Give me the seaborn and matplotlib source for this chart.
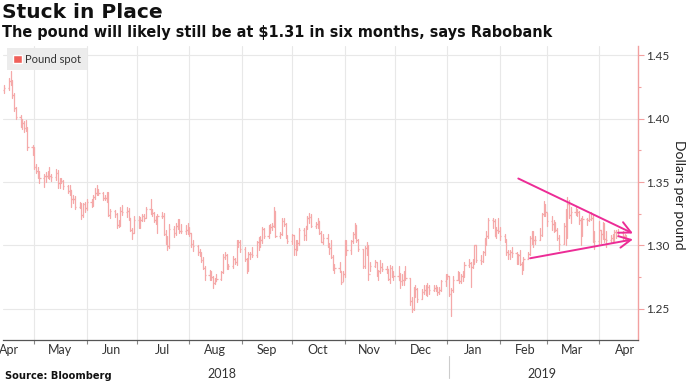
import pandas as pd
import matplotlib
matplotlib.use("Agg")
import matplotlib.pyplot as plt
import matplotlib.dates as mdates
from matplotlib.patches import Patch
from matplotlib.ticker import MultipleLocator
import seaborn as sns

# Daily GBP/USD bars, one block per month
# (close / high / low); open is the previous close
first_open = 1.4225

close_apr18 = [1.4240, 1.4300, 1.4295, 1.4190, 1.4085, 1.4015, 1.3965, 1.3970, 1.3930, 1.3925, 1.3775, 1.3765]
high_apr18 = [1.4265, 1.4320, 1.4377, 1.4305, 1.4200, 1.4090, 1.4030, 1.4000, 1.3985, 1.3990, 1.3935, 1.3795]
low_apr18 = [1.4205, 1.4230, 1.4270, 1.4165, 1.4060, 1.3995, 1.3935, 1.3920, 1.3895, 1.3900, 1.3755, 1.3715]

close_may18 = [1.3615, 1.3585, 1.3580, 1.3535, 1.3545, 1.3550, 1.3560, 1.3545, 1.3540, 1.3570, 1.3490, 1.3515,
               1.3510, 1.3470, 1.3430, 1.3440, 1.3365, 1.3370, 1.3305, 1.3320, 1.3240, 1.3325, 1.3295]
high_may18 = [1.3775, 1.3640, 1.3620, 1.3590, 1.3565, 1.3580, 1.3585, 1.3615, 1.3560, 1.3605, 1.3595, 1.3530,
              1.3535, 1.3520, 1.3475, 1.3475, 1.3440, 1.3395, 1.3390, 1.3340, 1.3335, 1.3335, 1.3340]
low_may18 = [1.3605, 1.3575, 1.3535, 1.3490, 1.3460, 1.3500, 1.3530, 1.3525, 1.3510, 1.3515, 1.3455, 1.3450,
             1.3490, 1.3445, 1.3415, 1.3400, 1.3305, 1.3335, 1.3290, 1.3295, 1.3205, 1.3225, 1.3265]

close_jun18 = [1.3340, 1.3340, 1.3380, 1.3415, 1.3440, 1.3410, 1.3375, 1.3375, 1.3395, 1.3240, 1.3270,
               1.3245, 1.3160, 1.3180, 1.3275, 1.3260, 1.3270, 1.3215, 1.3125, 1.3100, 1.3200]
high_jun18 = [1.3365, 1.3365, 1.3400, 1.3450, 1.3475, 1.3445, 1.3425, 1.3400, 1.3420, 1.3425, 1.3290,
              1.3280, 1.3255, 1.3200, 1.3300, 1.3315, 1.3305, 1.3295, 1.3220, 1.3140, 1.3230]
low_jun18 = [1.3280, 1.3300, 1.3310, 1.3365, 1.3400, 1.3395, 1.3360, 1.3355, 1.3345, 1.3230, 1.3220,
             1.3225, 1.3135, 1.3145, 1.3155, 1.3240, 1.3225, 1.3200, 1.3110, 1.3050, 1.3100]

close_jul18 = [1.3150, 1.3200, 1.3230, 1.3220, 1.3285, 1.3270, 1.3255, 1.3200, 1.3195, 1.3230, 1.3235,
               1.3090, 1.3050, 1.2995, 1.3130, 1.3100, 1.3150, 1.3175, 1.3115, 1.3110, 1.3125, 1.3120]
high_jul18 = [1.3230, 1.3225, 1.3250, 1.3250, 1.3300, 1.3365, 1.3285, 1.3265, 1.3230, 1.3250, 1.3260,
              1.3255, 1.3120, 1.3075, 1.3165, 1.3150, 1.3175, 1.3205, 1.3205, 1.3165, 1.3160, 1.3180]
low_jul18 = [1.3135, 1.3140, 1.3190, 1.3195, 1.3215, 1.3250, 1.3230, 1.3185, 1.3170, 1.3100, 1.3215,
             1.3085, 1.3010, 1.2960, 1.2980, 1.3065, 1.3080, 1.3130, 1.3095, 1.3100, 1.3090, 1.3090]

close_aug18 = [1.3095, 1.3010, 1.2995, 1.2950, 1.2930, 1.2885, 1.2825, 1.2765, 1.2785, 1.2750, 1.2705, 1.2715,
               1.2735, 1.2790, 1.2905, 1.2925, 1.2835, 1.2840, 1.2895, 1.2870, 1.3035, 1.3030, 1.2970]
high_aug18 = [1.3145, 1.3100, 1.3040, 1.3000, 1.2975, 1.2950, 1.2905, 1.2835, 1.2805, 1.2795, 1.2760, 1.2745,
              1.2770, 1.2800, 1.2930, 1.2950, 1.2935, 1.2855, 1.2915, 1.2900, 1.3045, 1.3045, 1.3045]
low_aug18 = [1.3075, 1.2990, 1.2955, 1.2925, 1.2915, 1.2870, 1.2815, 1.2730, 1.2730, 1.2725, 1.2660, 1.2695,
             1.2715, 1.2725, 1.2785, 1.2890, 1.2810, 1.2810, 1.2820, 1.2855, 1.2845, 1.2990, 1.2950]

close_sep18 = [1.2895, 1.2860, 1.2935, 1.2935, 1.2925, 1.3030, 1.3040, 1.3045, 1.3130, 1.3075,
               1.3150, 1.3145, 1.3150, 1.3270, 1.3070, 1.3090, 1.3195, 1.3170, 1.3075, 1.3035]
high_sep18 = [1.2985, 1.2900, 1.2945, 1.2945, 1.2985, 1.3035, 1.3065, 1.3070, 1.3145, 1.3140,
              1.3160, 1.3165, 1.3175, 1.3300, 1.3275, 1.3105, 1.3215, 1.3220, 1.3175, 1.3085]
low_sep18 = [1.2880, 1.2785, 1.2800, 1.2895, 1.2910, 1.2905, 1.2960, 1.2985, 1.3020, 1.3055,
             1.3055, 1.3100, 1.3120, 1.3145, 1.3065, 1.3060, 1.3085, 1.3150, 1.3060, 1.3015]

close_oct18 = [1.3080, 1.2975, 1.2965, 1.3020, 1.3120, 1.3080, 1.3150, 1.3215, 1.3225, 1.3150, 1.3170, 1.3190,
               1.3100, 1.3030, 1.3060, 1.3000, 1.2980, 1.2910, 1.2810, 1.2825, 1.2795, 1.2710, 1.2770]
high_oct18 = [1.3090, 1.3085, 1.3045, 1.3040, 1.3140, 1.3135, 1.3155, 1.3235, 1.3255, 1.3245, 1.3185, 1.3215,
              1.3195, 1.3110, 1.3090, 1.3090, 1.3020, 1.3045, 1.2925, 1.2855, 1.2865, 1.2800, 1.2795]
low_oct18 = [1.3010, 1.2925, 1.2920, 1.2960, 1.3000, 1.3045, 1.3045, 1.3130, 1.3175, 1.3145, 1.3135, 1.3140,
             1.3090, 1.3025, 1.3010, 1.2990, 1.2935, 1.2900, 1.2805, 1.2780, 1.2790, 1.2695, 1.2715]

close_nov18 = [1.3010, 1.2965, 1.3035, 1.3090, 1.3160, 1.3045, 1.2970, 1.2840, 1.2980, 1.2975, 1.2770,
               1.2840, 1.2865, 1.2770, 1.2795, 1.2830, 1.2815, 1.2810, 1.2735, 1.2825, 1.2780, 1.2755]
high_nov18 = [1.3040, 1.3045, 1.3045, 1.3105, 1.3175, 1.3160, 1.3050, 1.2975, 1.2995, 1.3030, 1.3000,
              1.2870, 1.2885, 1.2870, 1.2805, 1.2885, 1.2860, 1.2840, 1.2810, 1.2845, 1.2840, 1.2800]
low_nov18 = [1.2750, 1.2925, 1.2935, 1.3015, 1.3055, 1.3030, 1.2955, 1.2825, 1.2825, 1.2925, 1.2725,
             1.2795, 1.2830, 1.2760, 1.2725, 1.2785, 1.2795, 1.2780, 1.2725, 1.2700, 1.2750, 1.2725]

close_dec18 = [1.2730, 1.2720, 1.2725, 1.2780, 1.2740, 1.2560, 1.2495, 1.2635, 1.2655, 1.2580, 1.2630,
               1.2645, 1.2630, 1.2670, 1.2650, 1.2665, 1.2670, 1.2635, 1.2650, 1.2720, 1.2755]
high_dec18 = [1.2840, 1.2785, 1.2770, 1.2800, 1.2840, 1.2745, 1.2595, 1.2670, 1.2690, 1.2665, 1.2655,
              1.2690, 1.2690, 1.2700, 1.2690, 1.2690, 1.2690, 1.2675, 1.2675, 1.2730, 1.2775]
low_dec18 = [1.2725, 1.2660, 1.2690, 1.2690, 1.2730, 1.2525, 1.2475, 1.2490, 1.2590, 1.2555, 1.2575,
             1.2615, 1.2610, 1.2600, 1.2615, 1.2640, 1.2640, 1.2610, 1.2615, 1.2640, 1.2680]

close_jan19 = [1.2755, 1.2615, 1.2645, 1.2730, 1.2785, 1.2720, 1.2755, 1.2755, 1.2845, 1.2860, 1.2830, 1.2875,
               1.3000, 1.2885, 1.2875, 1.2945, 1.3045, 1.3075, 1.3200, 1.3190, 1.3075, 1.3125, 1.3115]
high_jan19 = [1.2770, 1.2760, 1.2660, 1.2760, 1.2800, 1.2790, 1.2775, 1.2800, 1.2870, 1.2890, 1.2870, 1.2895,
              1.3000, 1.3005, 1.2925, 1.2955, 1.3055, 1.3110, 1.3215, 1.3215, 1.3205, 1.3145, 1.3215]
low_jan19 = [1.2735, 1.2600, 1.2440, 1.2635, 1.2730, 1.2705, 1.2705, 1.2720, 1.2750, 1.2830, 1.2670, 1.2820,
             1.2855, 1.2865, 1.2855, 1.2865, 1.2925, 1.3005, 1.3060, 1.3140, 1.3070, 1.3055, 1.3100]

close_feb19 = [1.3075, 1.3045, 1.2945, 1.2930, 1.2945, 1.2940, 1.2880, 1.2925, 1.2855, 1.2810,
               1.2895, 1.2935, 1.3060, 1.3045, 1.3045, 1.3045, 1.3080, 1.3250, 1.3315, 1.3260]
high_feb19 = [1.3145, 1.3090, 1.3050, 1.2965, 1.2960, 1.2985, 1.2950, 1.2935, 1.2965, 1.2870,
              1.2905, 1.2950, 1.3075, 1.3110, 1.3110, 1.3075, 1.3140, 1.3255, 1.3350, 1.3325]
low_feb19 = [1.3045, 1.3030, 1.2925, 1.2890, 1.2895, 1.2905, 1.2855, 1.2855, 1.2845, 1.2775,
             1.2805, 1.2890, 1.2920, 1.3010, 1.2985, 1.3010, 1.3040, 1.3075, 1.3235, 1.3235]

close_mar19 = [1.3190, 1.3165, 1.3140, 1.3125, 1.3060, 1.3010, 1.3150, 1.3075, 1.3330, 1.3240, 1.3265,
               1.3265, 1.3260, 1.3200, 1.3190, 1.3210, 1.3200, 1.3210, 1.3215, 1.3040, 1.3035]
high_mar19 = [1.3255, 1.3230, 1.3200, 1.3185, 1.3135, 1.3080, 1.3180, 1.3290, 1.3380, 1.3360, 1.3300,
              1.3300, 1.3290, 1.3270, 1.3215, 1.3230, 1.3220, 1.3245, 1.3265, 1.3240, 1.3110]
low_mar19 = [1.3155, 1.3125, 1.3105, 1.3115, 1.3045, 1.2960, 1.3010, 1.3005, 1.3055, 1.3220, 1.3180,
             1.3240, 1.3230, 1.3170, 1.3000, 1.3075, 1.3160, 1.3190, 1.3200, 1.3025, 1.2975]

close_apr19 = [1.3120, 1.3090, 1.3165, 1.3050, 1.3040, 1.3060, 1.3050, 1.3105, 1.3075, 1.3095, 1.3075, 1.3060, 1.3045]
high_apr19 = [1.3195, 1.3125, 1.3185, 1.3175, 1.3110, 1.3085, 1.3090, 1.3120, 1.3125, 1.3130, 1.3115, 1.3090, 1.3080]
low_apr19 = [1.3010, 1.3020, 1.3050, 1.3025, 1.2990, 1.3025, 1.3030, 1.3030, 1.3060, 1.3070, 1.3040, 1.3040, 1.3025]

blocks = [
    ("2018-04-13", "2018-04-30", close_apr18, high_apr18, low_apr18),
    ("2018-05-01", "2018-05-31", close_may18, high_may18, low_may18),
    ("2018-06-01", "2018-06-30", close_jun18, high_jun18, low_jun18),
    ("2018-07-01", "2018-07-31", close_jul18, high_jul18, low_jul18),
    ("2018-08-01", "2018-08-31", close_aug18, high_aug18, low_aug18),
    ("2018-09-01", "2018-09-30", close_sep18, high_sep18, low_sep18),
    ("2018-10-01", "2018-10-31", close_oct18, high_oct18, low_oct18),
    ("2018-11-01", "2018-11-30", close_nov18, high_nov18, low_nov18),
    ("2018-12-01", "2018-12-31", close_dec18, high_dec18, low_dec18),
    ("2019-01-01", "2019-01-31", close_jan19, high_jan19, low_jan19),
    ("2019-02-01", "2019-02-28", close_feb19, high_feb19, low_feb19),
    ("2019-03-01", "2019-03-31", close_mar19, high_mar19, low_mar19),
    ("2019-04-01", "2019-04-17", close_apr19, high_apr19, low_apr19),
]

# Triangle arrows (start date, start price, end date, end price)
arrow_upper = ("2019-02-12", 1.3528, "2019-04-21", 1.3094)
arrow_lower = ("2019-02-19", 1.2898, "2019-04-21", 1.3047)

y_ticks = [1.25, 1.30, 1.35, 1.40, 1.45]

frames = []
for start, end, c, h, l in blocks:
    frames.append(pd.DataFrame({"date": pd.bdate_range(start, end), "close": c, "high": h, "low": l}))
df = pd.concat(frames, ignore_index=True)
df["open"] = df["close"].shift(1).fillna(first_open)

bar_color = "#f5a9a9"
pink = "#ec2c96"

sns.set_theme(style="white")
plt.rcParams["font.family"] = ["Lato", "DejaVu Sans"]

fig = plt.figure(figsize=(6.88, 3.86), dpi=100)
ax = fig.add_axes([0.0044, 0.119, 0.923, 0.762])

# high-low range of each day
hl = df.melt(id_vars="date", value_vars=["low", "high"], value_name="price")
sns.lineplot(data=hl, x="date", y="price", units="date", estimator=None,
             color=bar_color, lw=0.9, ax=ax, legend=False)

# open / close ticks
xd = mdates.date2num(df["date"])
ax.hlines(df["open"], xd - 0.75, xd, color=bar_color, lw=0.9)
ax.hlines(df["close"], xd, xd + 0.75, color=bar_color, lw=0.9)

for sd, sp, ed, ep in [arrow_upper, arrow_lower]:
    ax.annotate("", xy=(mdates.date2num(pd.Timestamp(ed)), ep),
                xytext=(mdates.date2num(pd.Timestamp(sd)), sp),
                arrowprops=dict(arrowstyle="->,head_length=0.7,head_width=0.35",
                                color=pink, lw=1.4, shrinkA=0, shrinkB=0))

ax.set_xlim(mdates.date2num(pd.Timestamp("2018-04-12 12:00")),
            mdates.date2num(pd.Timestamp("2019-04-24")))
ax.set_ylim(1.2252, 1.4575)

# axes styling
ax.set_xlabel("")
ax.set_ylabel("")
ax.yaxis.tick_right()
ax.set_yticks(y_ticks)
ax.set_yticklabels([f"{v:.2f}" for v in y_ticks])
ax.yaxis.set_minor_locator(MultipleLocator(0.025))
ax.tick_params(axis="y", which="major", right=True, length=4, width=0.8, color="#f2a0a0",
               labelsize=8.5, labelcolor="#333333", pad=2)
ax.tick_params(axis="y", which="minor", right=True, length=2.5, width=0.8, color="#f2a0a0")

ax.xaxis.set_major_locator(mdates.MonthLocator())
ax.xaxis.set_major_formatter(plt.NullFormatter())
ax.xaxis.set_minor_locator(mdates.MonthLocator(bymonthday=16))
ax.xaxis.set_minor_formatter(mdates.DateFormatter("%b"))
ax.tick_params(axis="x", which="major", bottom=True, length=3, width=0.8, color="#888888")
ax.tick_params(axis="x", which="minor", bottom=True, length=0, labelsize=9,
               labelcolor="#333333", pad=3)

ax.grid(True, which="major", color="#e8e8e8", lw=0.8)
ax.set_axisbelow(True)
for side in ["top", "left"]:
    ax.spines[side].set_visible(False)
ax.spines["right"].set_color("#f2a0a0")
ax.spines["right"].set_linewidth(1.0)
ax.spines["bottom"].set_color("#555555")
ax.spines["bottom"].set_linewidth(0.9)

leg = ax.legend(handles=[Patch(facecolor="#f0605a", label="Pound spot")], loc="upper left",
                bbox_to_anchor=(0.003, 1.0), frameon=True, fancybox=False, framealpha=1,
                facecolor="#ececec", edgecolor="none", fontsize=8, handlelength=0.8,
                handleheight=0.8, handletextpad=0.35, borderpad=0.5, borderaxespad=0.2)
for t in leg.get_texts():
    t.set_color("#333333")

# year labels under the month row
trans = ax.get_xaxis_transform()
ax.text(mdates.date2num(pd.Timestamp("2018-08-20")), -0.095, "2018", transform=trans,
        ha="center", va="top", fontsize=9, color="#333333")
ax.text(mdates.date2num(pd.Timestamp("2019-02-26")), -0.095, "2019", transform=trans,
        ha="center", va="top", fontsize=9, color="#333333")
ax.plot([mdates.date2num(pd.Timestamp("2019-01-02"))] * 2, [-0.055, -0.13], transform=trans,
        color="#cccccc", lw=0.8, clip_on=False)

fig.text(679 / 688, 1 - 195 / 386, "Dollars per pound", rotation=270, ha="center", va="center",
         fontsize=10, color="#222222")
fig.text(0.003, 1 - 3 / 386, "Stuck in Place", fontsize=14.5, fontweight="bold", va="top",
         color="#111111", family="DejaVu Sans")
fig.text(0.003, 1 - 25 / 386, "The pound will likely still be at $1.31 in six months, says Rabobank",
         fontsize=10.45, fontweight="bold", va="top", color="#111111", family="DejaVu Sans")
fig.text(0.007, 1 - 371 / 386, "Source: Bloomberg", fontsize=7.1, fontweight="bold", va="top",
         color="#111111", family="DejaVu Sans")

fig.savefig("out.png", dpi=100)
